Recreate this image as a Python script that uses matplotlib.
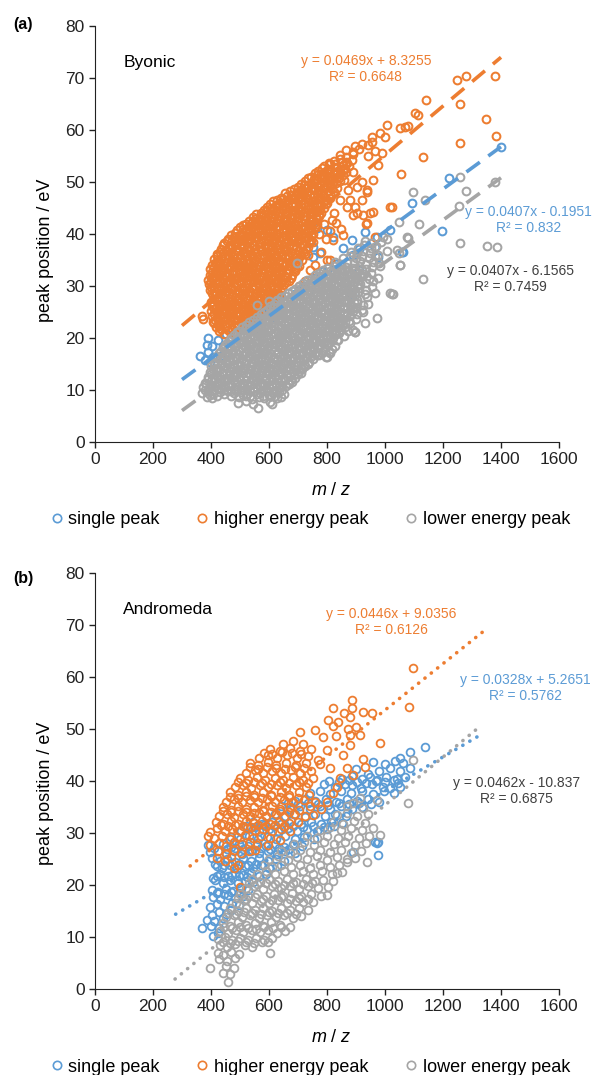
import numpy as np
import matplotlib
matplotlib.use("Agg")
import matplotlib.pyplot as plt
from matplotlib.lines import Line2D

plt.rcParams['font.family'] = ['Liberation Sans', 'DejaVu Sans']
plt.rcParams['mathtext.fontset'] = 'custom'
plt.rcParams['mathtext.it'] = 'Liberation Sans:italic'
plt.rcParams['mathtext.rm'] = 'Liberation Sans'

BLUE = '#5B9BD5'
ORANGE = '#ED7D31'
GRAY = '#A5A5A5'

series_names = ["single peak", "higher energy peak", "lower energy peak"]

# points, written as "m/z,peak" pairs

# ---------------- panel (a) Byonic ----------------
a_single = """
362,16.5 379,15.8 390,17.3 397,15.4 408,16.3 390,20.0 424,19.6 385,18.6 402,18.4
440,18.2 452,20.8 466,19.6 482,21.2 430,16.5 455,17.2 500,20.3 515,21.8 530,22.6
548,21.5 560,23.6 580,24.4 600,25.2 615,24.0 632,26.3 650,27.1 668,26.0 690,28.4
705,29.2 720,30.0 738,29.1 752,35.6 766,41.2 800,40.8 821,39.4 752,37.5 776,36.3
760,31.5 785,32.8 805,33.4 830,34.2 856,37.3 885,38.8 890,36.0 912,37.1 931,40.4
950,38.2 972,39.4 966,37.5 976,35.6 1017,40.8 1062,36.5 1092,46.0 1195,40.6
1221,50.7 1399,56.8 886,28.3 879,28.6 1059,36.5 860,30.5 910,33.0
"""
a_high = """
427,21.3 445,20.8 466,21.2
417,22.2 436,21.8 452,22.4 474,22.0 493,22.3 515,21.9
368,24.2 372,23.6 407,23.1 424,22.7 441,23.3 463,22.9 480,23.4 502,22.8 521,23.2 543,22.9
404,24.3 419,23.8 440,24.1 457,24.5 478,23.9 497,24.2 518,24.6 537,23.8 558,24.3
401,25.2 423,24.9 439,25.4 461,25.0 480,25.3 499,24.8 521,25.4 540,25.1 562,24.9 581,25.3
403,26.1 418,25.7 437,26.3 456,26.0 474,25.6 494,26.2 515,25.9 533,26.4 553,25.8 574,26.1 596,26.3
400,27.0 421,27.4 438,26.8 458,27.2 479,26.9 497,27.4 518,27.0 538,26.7 557,27.3 579,27.0 598,26.8 614,27.3
406,28.3 424,27.8 443,28.1 462,28.4 481,27.9 503,28.2 520,27.7 541,28.3 562,28.0 583,28.4 603,27.9 626,28.2
398,29.2 416,28.8 435,29.3 455,29.0 474,29.4 495,28.9 514,29.3 534,29.1 555,28.7 575,29.2 596,29.0 617,29.4 640,28.9
394,30.3 412,29.8 431,30.1 451,30.4 469,29.9 489,30.2 510,29.7 529,30.3 550,30.0 570,30.4 590,29.8 611,30.2 632,30.0 653,30.3
391,31.2 408,31.4 427,30.9 446,31.3 465,31.0 486,31.4 504,30.8 524,31.2 545,31.0 565,31.3 585,30.9 606,31.3 627,31.0 648,31.4 668,30.9
395,32.1 414,31.8 432,32.3 452,32.0 471,32.4 491,31.8 511,32.2 531,32.0 551,32.4 572,31.9 592,32.2 613,31.9 634,32.3 656,32.0 680,32.2
398,33.3 417,32.9 436,33.2 456,33.4 475,32.8 496,33.1 516,33.4 536,32.9 557,33.2 578,33.0 598,33.4 619,32.9 641,33.3 663,33.0 688,33.2
404,34.0 422,34.4 441,34.1 461,33.8 480,34.3 501,34.0 521,34.4 541,33.9 562,34.2 583,34.0 604,34.4 625,33.9 646,34.2 668,34.0 690,34.3 703,33.9
411,35.2 429,34.8 449,35.3 469,35.0 488,35.4 509,34.9 529,35.2 550,35.0 570,35.4 591,34.9 612,35.2 633,35.0 655,35.4 677,34.9 699,35.2 714,35.0
421,36.1 440,36.4 459,35.9 479,36.2 499,36.0 519,36.4 540,35.9 560,36.3 581,36.0 602,36.4 623,35.9 644,36.2 666,36.0 688,36.4 710,35.9 724,36.2
433,37.2 452,36.9 472,37.3 492,37.0 512,37.4 533,36.9 553,37.2 574,37.0 595,37.4 616,36.9 637,37.2 659,37.0 681,37.3 703,36.9 728,37.2
446,38.3 465,37.9 485,38.2 505,38.0 525,38.4 546,37.9 567,38.3 588,38.0 609,38.4 630,37.9 652,38.2 674,38.0 696,38.4 718,37.9 737,38.2
459,39.1 478,39.4 498,38.9 518,39.2 539,39.0 560,39.4 581,38.9 602,39.3 623,39.0 645,39.4 667,38.9 689,39.2 711,39.0 733,39.4 745,38.9
482,40.2 501,39.9 521,40.3 542,40.0 563,40.4 584,39.9 605,40.2 626,40.0 648,40.4 670,39.9 692,40.2 714,40.0 736,40.4 752,40.0
501,41.3 520,40.9 541,41.2 562,41.0 583,41.4 604,40.9 625,41.3 647,41.0 669,41.4 691,40.9 713,41.2 735,41.0 757,41.3
519,42.0 540,42.4 561,41.9 582,42.2 603,42.0 624,42.4 646,41.9 668,42.3 690,42.0 712,42.4 734,41.9 756,42.2 766,42.0
546,43.2 566,42.9 587,43.3 608,43.0 630,43.4 652,42.9 674,43.2 696,43.0 718,43.4 740,42.9 762,43.2 772,43.4
571,44.1 591,44.4 612,43.9 634,44.2 656,44.0 678,44.4 700,43.9 722,44.3 744,44.0 766,44.4 780,44.0
593,45.2 613,44.9 635,45.3 657,45.0 679,45.4 701,44.9 723,45.2 745,45.0 767,45.4 789,45.0
613,46.3 634,45.9 656,46.2 678,46.0 700,46.4 722,45.9 744,46.3 766,46.0 788,46.4 800,45.9
641,47.0 662,47.4 684,46.9 706,47.2 728,47.0 750,47.4 772,46.9 794,47.2 812,47.0
671,48.2 692,47.9 714,48.3 736,48.0 758,48.4 780,47.9 802,48.2 824,48.0
701,49.1 722,49.4 744,48.9 766,49.2 788,49.0 810,49.4 833,48.9
723,50.2 744,49.9 766,50.3 788,50.0 810,50.4 832,49.9 845,50.2
746,51.0 767,51.4 789,50.9 811,51.2 833,51.0 856,51.3
769,52.2 790,51.9 812,52.3 834,52.0 856,52.4 866,51.9
791,53.1 812,53.4 834,52.9 856,53.2 875,53.0
823,54.0 844,54.4 866,53.9 885,54.2
846,55.2 867,54.9 889,55.3
866,56.1 888,55.8 910,56.3
897,57.0 921,57.4 943,57.1
750,38.5 772,40.0 795,39.0 812,40.5 830,42.2 848,41.0 824,44.0 845,46.5 869,45.2
872,48.5 903,49.0 920,50.0 948,44.0 959,44.2 934,41.9 966,39.4 920,46.5 879,46.5
937,48.5 1017,45.2 1024,45.2 903,44.0 924,43.6 890,43.6 855,39.8 821,38.8 810,35.0
800,35.0 780,36.5 760,34.0 740,33.0 725,31.0 705,30.0 735,36.0 790,42.0 860,50.4
888,52.0 959,50.4 938,48.0 897,45.2 817,42.7 938,42.1 955,57.7 976,53.3 954,58.7
983,59.4 1000,58.7 1006,61.0 1052,60.4 1069,60.6 1079,60.8 1103,63.3 1114,62.9
1141,65.8 1247,69.6 1279,70.4 1379,70.3 1259,65.0 1348,62.1 1259,57.5 1383,58.8
1132,54.8 1055,51.5 990,55.5 965,56.0 940,55.0
"""
# the solid-looking core of the orange cloud holds many more circles
a_high_core = """
436,21.7 458,21.5 484,21.4 505,21.8
412,22.9 429,22.4 451,22.6 470,23.0 491,22.5 511,22.7 532,22.6
414,23.5 432,23.9 451,23.7 469,24.0 489,23.5 510,23.8 528,24.0 548,23.6
410,24.6 430,24.5 450,24.9 470,24.6 489,24.7 510,24.4 530,24.8 551,24.6 571,24.5
410,25.5 428,25.8 447,25.6 465,25.4 485,25.7 505,25.5 526,25.8 545,25.6 566,25.5 587,25.7
409,26.6 428,26.4 447,26.7 466,26.5 486,26.3 506,26.6 526,26.4 546,26.8 566,26.5 587,26.6 607,26.4
410,27.6 430,27.3 449,27.7 469,27.5 490,27.4 509,27.8 529,27.5 549,27.3 569,27.7 590,27.5 608,27.4 620,27.8
403,28.7 415,28.5 434,28.4 452,28.8 472,28.5 492,28.6 512,28.4 531,28.8 551,28.5 572,28.6 593,28.3 613,28.7 634,28.5
400,29.8 425,29.5 445,29.7 465,29.4 484,29.8 504,29.6 524,29.7 544,29.4 565,29.8 585,29.5 606,29.6 627,29.4 646,29.7
401,30.8 420,30.6 440,30.5 460,30.9 479,30.6 499,30.7 519,30.5 539,30.8 560,30.6 580,30.7 600,30.5 621,30.8 642,30.6 660,30.7
400,31.6 417,31.8 437,31.5 456,31.9 476,31.6 495,31.7 515,31.5 535,31.8 555,31.6 575,31.7 596,31.5 617,31.8 638,31.6 660,31.7 676,31.5
404,32.7 423,32.5 442,32.8 462,32.6 481,32.7 501,32.4 521,32.8 541,32.6 562,32.7 582,32.5 603,32.8 624,32.6 645,32.7 667,32.5 690,32.8
410,33.6 427,33.8 446,33.5 466,33.9 486,33.6 506,33.8 526,33.5 546,33.7 567,33.9 588,33.6 609,33.8 630,33.5 652,33.8 675,33.6 696,33.7
414,34.5 432,34.7 451,34.6 471,34.4 491,34.8 511,34.6 531,34.5 552,34.8 573,34.6 594,34.5 615,34.8 636,34.6 657,34.5 679,34.7 700,34.6
420,35.7 439,35.5 459,35.8 479,35.6 499,35.4 519,35.8 540,35.6 560,35.5 581,35.8 602,35.6 623,35.5 644,35.8 666,35.6 688,35.5 708,35.7
431,36.6 450,36.8 470,36.5 490,36.9 510,36.6 530,36.7 550,36.5 571,36.8 592,36.6 613,36.7 634,36.5 655,36.8 677,36.6 699,36.7 719,36.5
443,37.8 462,37.6 482,37.9 502,37.7 523,37.5 544,37.8 564,37.6 585,37.7 606,37.5 627,37.8 648,37.6 670,37.7 692,37.5 714,37.8 733,37.6
455,38.6 472,38.8 492,38.5 512,38.9 532,38.6 553,38.7 574,38.5 595,38.8 616,38.6 637,38.7 659,38.5 681,38.8 703,38.6 724,38.7 742,38.5
470,39.8 489,39.6 509,39.9 529,39.7 550,39.5 571,39.8 592,39.6 613,39.7 635,39.5 657,39.8 679,39.6 701,39.7 723,39.5 745,39.8
490,40.7 511,40.9 531,40.6 552,40.9 573,40.7 594,40.8 615,40.6 636,40.9 658,40.7 680,40.8 702,40.6 724,40.9 746,40.7
510,41.8 530,41.6 551,41.9 572,41.7 593,41.5 614,41.8 635,41.6 657,41.7 679,41.5 701,41.8 723,41.6 745,41.7 762,41.5
530,42.6 550,42.8 571,42.5 592,42.9 613,42.6 635,42.7 657,42.5 679,42.8 701,42.6 723,42.7 745,42.5 767,42.8
556,43.8 576,43.6 597,43.9 619,43.7 641,43.5 663,43.8 685,43.6 707,43.7 729,43.5 751,43.8 773,43.6
581,44.6 602,44.8 623,44.5 645,44.9 667,44.6 689,44.7 711,44.5 733,44.8 755,44.6 777,44.7
603,45.8 624,45.6 645,45.9 667,45.7 689,45.5 711,45.8 733,45.6 755,45.7 777,45.5 795,45.8
627,46.6 647,46.8 669,46.5 691,46.9 713,46.6 735,46.7 757,46.5 779,46.8 801,46.6
656,47.8 677,47.6 699,47.9 721,47.7 743,47.5 765,47.8 787,47.6 809,47.7
685,48.7 706,48.5 728,48.8 750,48.6 772,48.5 794,48.8 816,48.6
712,49.7 733,49.5 755,49.8 777,49.6 799,49.5 821,49.8
735,50.7 756,50.5 778,50.8 800,50.6 822,50.5 842,50.7
758,51.7 779,51.5 801,51.8 823,51.6 845,51.5
781,52.7 802,52.5 824,52.8 846,52.6 862,52.5
806,53.7 828,53.5 850,53.8 870,53.6
"""
a_low = """
563,6.5 493,7.5 520,7.8 545,7.3 603,7.7 612,7.4
386,8.7 405,8.4 498,8.6 522,8.9 541,8.3 566,8.7 584,8.5 606,8.9 628,8.4 641,8.7
369,9.4 389,9.8 408,9.3 430,9.6 457,9.9 480,9.4 503,9.7 525,9.3 547,9.8 570,9.5 592,9.9 614,9.4 636,9.7 650,9.3
373,10.6 393,10.3 414,10.8 436,10.4 458,10.7 480,10.2 502,10.6 524,10.9 546,10.4 568,10.7 590,10.3 612,10.8 634,10.5 657,10.7
380,11.4 401,11.8 423,11.3 445,11.7 467,11.4 489,11.8 511,11.3 533,11.6 555,11.9 577,11.4 599,11.7 621,11.3 643,11.8 665,11.4 680,11.6
388,12.6 410,12.3 432,12.7 454,12.4 476,12.8 498,12.3 520,12.7 542,12.4 564,12.8 586,12.3 608,12.6 630,12.9 652,12.4 674,12.7 690,12.3
396,13.4 417,13.8 439,13.3 461,13.7 483,13.4 505,13.8 527,13.3 549,13.6 571,13.9 593,13.4 615,13.7 637,13.3 659,13.8 681,13.4 703,13.7 712,13.3
401,14.6 423,14.3 445,14.7 467,14.4 489,14.8 511,14.3 533,14.7 555,14.4 577,14.8 599,14.3 621,14.6 643,14.9 665,14.4 687,14.7 709,14.3 725,14.6
409,15.4 431,15.8 453,15.3 475,15.7 497,15.4 519,15.8 541,15.3 563,15.6 585,15.9 607,15.4 629,15.7 651,15.3 673,15.8 695,15.4 717,15.7 739,15.3
419,16.6 441,16.3 463,16.7 485,16.4 507,16.8 529,16.3 551,16.7 573,16.4 595,16.8 617,16.3 639,16.6 661,16.9 683,16.4 705,16.7 727,16.3 749,16.6 771,16.8 797,16.4
432,17.4 454,17.8 476,17.3 498,17.7 520,17.4 542,17.8 564,17.3 586,17.6 608,17.9 630,17.4 652,17.7 674,17.3 696,17.8 718,17.4 740,17.7 762,17.3 785,17.6 808,17.4
447,18.6 469,18.3 491,18.7 513,18.4 535,18.8 557,18.3 579,18.7 601,18.4 623,18.8 645,18.3 667,18.6 689,18.9 711,18.4 733,18.7 755,18.3 777,18.6 800,18.8 826,18.4
463,19.4 485,19.8 507,19.3 529,19.7 551,19.4 573,19.8 595,19.3 617,19.6 639,19.9 661,19.4 683,19.7 705,19.3 727,19.8 749,19.4 771,19.7 793,19.3 816,19.6 838,19.6
479,20.6 501,20.3 523,20.7 545,20.4 567,20.8 589,20.3 611,20.7 633,20.4 655,20.8 677,20.3 699,20.6 721,20.9 743,20.4 765,20.7 787,20.3 809,20.6 832,20.8 858,20.4
496,21.4 518,21.8 540,21.3 562,21.7 584,21.4 606,21.8 628,21.3 650,21.6 672,21.9 694,21.4 716,21.7 738,21.3 760,21.8 782,21.4 804,21.7 826,21.3 848,21.6 872,21.4 895,21.2
521,22.6 543,22.3 565,22.7 587,22.4 609,22.8 631,22.3 653,22.7 675,22.4 697,22.8 719,22.3 741,22.6 763,22.9 785,22.4 807,22.7 829,22.3 851,22.6 878,22.8 931,22.9
546,23.4 568,23.8 590,23.3 612,23.7 634,23.4 656,23.8 678,23.3 700,23.6 722,23.9 744,23.4 766,23.7 788,23.3 810,23.8 832,23.4 854,23.7 876,23.3 900,23.6 972,23.8
571,24.6 593,24.3 615,24.7 637,24.4 659,24.8 681,24.3 703,24.7 725,24.4 747,24.8 769,24.3 791,24.6 813,24.9 835,24.4 857,24.7 879,24.3 903,24.6 924,25.0
593,25.4 615,25.8 637,25.3 659,25.7 681,25.4 703,25.8 725,25.3 747,25.6 769,25.9 791,25.4 813,25.7 835,25.3 857,25.8 879,25.4 901,25.7 921,25.4
560,26.3 616,26.6 638,26.3 660,26.7 682,26.4 704,26.8 726,26.3 748,26.7 770,26.4 792,26.8 814,26.3 836,26.6 858,26.9 880,26.4 902,26.7 924,26.3 942,26.6
600,27.2 627,27.3 641,27.8 663,27.3 685,27.7 707,27.4 729,27.8 751,27.3 773,27.6 795,27.9 817,27.4 839,27.7 861,27.3 883,27.8 905,27.4 938,27.9
666,28.6 688,28.3 710,28.7 732,28.4 754,28.8 776,28.3 798,28.7 820,28.4 842,28.8 864,28.3 886,28.6 908,28.9 930,28.4 966,28.6 1024,28.5
691,29.4 713,29.8 735,29.3 757,29.7 779,29.4 801,29.8 823,29.3 845,29.6 867,29.9 889,29.4 911,29.7 933,29.3 955,29.8
716,30.6 738,30.3 760,30.7 782,30.4 804,30.8 826,30.3 848,30.7 870,30.4 892,30.8 914,30.3 936,30.6 959,31.0
746,31.4 768,31.8 790,31.3 812,31.7 834,31.4 856,31.8 878,31.3 900,31.6 922,31.9 944,31.4 976,31.5 1131,31.3
773,32.6 795,32.3 817,32.7 839,32.4 861,32.8 883,32.3 905,32.7 927,32.4 950,32.6
801,33.4 823,33.8 845,33.3 867,33.7 889,33.4 911,33.8 933,33.3 955,33.6 983,33.9 1052,34.0
697,34.4 826,34.6 848,34.3 870,34.7 892,34.4 914,34.8 936,34.3 958,34.7 980,34.4
856,35.4 878,35.8 900,35.3 922,35.7 944,35.4 966,35.8 976,36.0
881,36.6 903,36.3 925,36.7 947,36.4 1007,36.7 1041,36.9 1048,36.3
907,37.4 929,37.8 951,37.3 970,37.7 932,38.6 955,38.3 985,38.4
993,39.4 1076,39.4 1006,39.0 1117,42.0 1048,42.3 1097,48.0 1138,46.6 1255,45.4
1259,51.0 1279,48.3 1379,50.0 1259,38.3 1352,37.7 1386,37.5 1028,28.5 1017,28.6
1052,34.0 897,21.2 845,22.9 828,21.0 810,17.1 1080,39.2 890,21.5 834,19.6 800,16.3
766,16.7 731,16.3
"""
a_low_core = """
395,9.1 420,8.9 445,9.2 470,8.8 512,9.1 535,8.9 557,9.2 579,8.9 601,9.1 622,8.8
380,10.1 402,9.9 424,10.2 446,10.0 469,9.9 491,10.2 513,10.0 535,9.9 557,10.2 579,10.0 601,9.9 623,10.1 645,10.0
384,11.1 404,10.9 425,11.2 447,11.0 469,10.9 491,11.2 513,11.0 535,10.9 557,11.2 579,11.0 601,10.9 623,11.2 645,11.0 668,11.1
391,12.1 412,11.9 434,12.2 456,12.0 478,11.9 500,12.2 522,12.0 544,11.9 566,12.2 588,12.0 610,11.9 632,12.2 654,12.0 676,11.9
399,13.1 421,12.9 443,13.2 465,13.0 487,12.9 509,13.2 531,13.0 553,12.9 575,13.2 597,13.0 619,12.9 641,13.2 663,13.0 685,12.9 700,13.1
406,14.1 428,13.9 450,14.2 472,14.0 494,13.9 516,14.2 538,14.0 560,13.9 582,14.2 604,14.0 626,13.9 648,14.2 670,14.0 692,13.9 714,14.1
412,15.1 434,14.9 456,15.2 478,15.0 500,14.9 522,15.2 544,15.0 566,14.9 588,15.2 610,15.0 632,14.9 654,15.2 676,15.0 698,14.9 720,15.1 735,15.0
420,16.1 442,15.9 464,16.2 486,16.0 508,15.9 530,16.2 552,16.0 574,15.9 596,16.2 618,16.0 640,15.9 662,16.2 684,16.0 706,15.9 728,16.2 750,16.0
428,17.1 450,16.9 472,17.2 494,17.0 516,16.9 538,17.2 560,17.0 582,16.9 604,17.2 626,17.0 648,16.9 670,17.2 692,17.0 714,16.9 736,17.2 758,17.0 782,17.1
440,18.1 462,17.9 484,18.2 506,18.0 528,17.9 550,18.2 572,18.0 594,17.9 616,18.2 638,18.0 660,17.9 682,18.2 704,18.0 726,17.9 748,18.2 770,18.0 794,18.1 816,17.9
455,19.1 477,18.9 499,19.2 521,19.0 543,18.9 565,19.2 587,19.0 609,18.9 631,19.2 653,19.0 675,18.9 697,19.2 719,19.0 741,18.9 763,19.2 785,19.0 808,19.1
470,20.1 491,19.9 513,20.2 535,20.0 557,19.9 579,20.2 601,20.0 623,19.9 645,20.2 667,20.0 689,19.9 711,20.2 733,20.0 755,19.9 777,20.2 799,20.0 822,20.1
488,21.1 510,20.9 532,21.2 554,21.0 576,20.9 598,21.2 620,21.0 642,20.9 664,21.2 686,21.0 708,20.9 730,21.2 752,21.0 774,20.9 796,21.2 818,21.0 840,20.9
508,22.1 530,21.9 552,22.2 574,22.0 596,21.9 618,22.2 640,22.0 662,21.9 684,22.2 706,22.0 728,21.9 750,22.2 772,22.0 794,21.9 816,22.2 838,22.0 861,22.1
532,23.1 554,22.9 576,23.2 598,23.0 620,22.9 642,23.2 664,23.0 686,22.9 708,23.2 730,23.0 752,22.9 774,23.2 796,23.0 818,22.9 840,23.2 862,23.0
558,24.1 580,23.9 602,24.2 624,24.0 646,23.9 668,24.2 690,24.0 712,23.9 734,24.2 756,24.0 778,23.9 800,24.2 822,24.0 844,23.9 866,24.2
582,25.1 604,24.9 626,25.2 648,25.0 670,24.9 692,25.2 714,25.0 736,24.9 758,25.2 780,25.0 802,24.9 824,25.2 846,25.0 868,24.9 890,25.2
604,26.1 626,25.9 648,26.2 670,26.0 692,25.9 714,26.2 736,26.0 758,25.9 780,26.2 802,26.0 824,25.9 846,26.2 868,26.0 890,25.9
628,27.1 650,26.9 672,27.2 694,27.0 716,26.9 738,27.2 760,27.0 782,26.9 804,27.2 826,27.0 848,26.9 870,27.2 892,27.0
655,28.1 677,27.9 699,28.2 721,28.0 743,27.9 765,28.2 787,28.0 809,27.9 831,28.2 853,28.0 875,27.9 897,28.2
678,29.1 700,28.9 722,29.2 744,29.0 766,28.9 788,29.2 810,29.0 832,28.9 854,29.2 876,29.0 898,28.9
704,30.1 726,29.9 748,30.2 770,30.0 792,29.9 814,30.2 836,30.0 858,29.9 880,30.2 902,30.0
730,31.1 752,30.9 774,31.2 796,31.0 818,30.9 840,31.2 862,31.0 884,30.9 906,31.2
760,32.1 782,31.9 804,32.2 826,32.0 848,31.9 870,32.2 892,32.0 914,31.9
787,33.1 809,32.9 831,33.2 853,33.0 875,32.9 897,33.2 919,33.0
"""
# trendlines as printed on the chart: single, higher, lower
a_slope = [0.0407, 0.0469, 0.0407]
a_icpt = [-0.1951, 8.3255, -6.1565]
a_xrange = [(300, 1400), (300, 1400), (300, 1400)]
a_eq = ["y = 0.0407x - 0.1951\nR² = 0.832",
        "y = 0.0469x + 8.3255\nR² = 0.6648",
        "y = 0.0407x - 6.1565\nR² = 0.7459"]
a_eq_pos = [(1495, 42.7), (934, 71.7), (1434, 31.3)]

# ---------------- panel (b) Andromeda ----------------
b_single = """
408,10.1 424,10.8 368,11.7 400,12.2 428,11.8 386,13.3 412,13.0 440,13.7
402,14.2 426,14.9 452,14.5 470,15.1 397,15.8 420,16.4 446,16.0 472,16.5 495,16.1
407,17.7 432,17.4 458,18.0 484,17.5 510,17.9 403,19.0 424,18.7 450,19.3 476,18.9 502,19.4 528,19.0
414,21.0 440,20.4 466,20.9 492,20.3 518,20.8 545,20.5 408,21.3 432,22.2 458,21.8 484,22.4 510,21.9 537,22.3 565,21.8 590,22.1
420,23.6 438,23.3 464,23.8 490,23.2 517,23.7 544,23.3 572,23.8 600,23.3 628,23.6
403,25.2 430,24.6 456,25.0 483,24.5 510,25.1 538,24.7 566,25.2 595,24.6 624,25.0 652,24.7
397,26.3 425,26.6 452,26.1 480,26.5 508,26.0 537,26.6 566,26.2 596,26.5 626,26.0 656,26.6 688,26.2 890,26.3
388,27.6 440,27.9 468,27.4 497,27.9 527,27.5 557,28.0 588,27.5 619,27.9 650,27.4 682,27.9 714,27.5 976,28.3
470,29.3 500,28.8 530,29.4 561,28.9 592,29.3 624,28.8 656,29.4 689,28.9 722,29.3 756,28.9 966,28.3
505,30.4 536,30.9 567,30.3 599,30.8 631,30.4 664,30.9 697,30.3 731,30.8 766,30.4 800,30.7
545,32.2 577,31.7 609,32.2 642,31.8 675,32.3 709,31.8 744,32.2 779,31.7 814,32.2 850,31.9
590,33.2 622,33.7 655,33.2 689,33.6 723,33.1 758,33.7 793,33.2 829,33.6 866,33.2
640,35.1 673,34.6 707,35.1 741,34.7 776,35.2 812,34.7 848,35.1 885,34.6 920,35.0
690,36.1 724,36.6 759,36.1 795,36.5 831,36.0 868,36.6 905,36.1 942,36.5 980,36.0
740,37.6 775,38.0 811,37.5 847,38.1 884,37.6 921,38.0 958,37.5 995,38.0 1030,37.6
790,39.4 826,38.9 862,39.4 886,39.2 918,38.7 955,39.4 992,38.9 1017,38.7 1045,39.6 1052,38.8
850,40.4 885,40.9 920,40.3 948,40.8 972,40.2 1005,40.7 1040,40.3 1070,40.8
900,42.3 941,41.3 980,42.0 1017,42.5 1052,41.9 1086,42.5 960,43.6 1000,43.2 1035,43.8 1062,43.5
1052,44.4 1086,45.6 1138,46.6 976,25.8 972,28.0
420,18.5 445,18.3 470,18.6 495,18.4 420,21.8 446,21.6 472,21.9 498,21.7 524,21.5
415,24.1 445,23.9 472,24.2 500,24.0 528,23.8 556,24.1
410,27.1 455,26.9 483,27.2 512,27.0 542,26.8 572,27.1 603,26.9 635,27.1 668,26.9
520,31.4 552,31.2 584,31.5 617,31.3 650,31.1 684,31.4 718,31.2 752,31.4 788,31.2 824,31.4
665,35.7 700,35.5 733,35.8 768,35.6 803,35.4 840,35.7 876,35.5 912,35.7 950,35.5
808,40.0 843,39.8 876,40.1 905,39.9 936,39.7 968,40.0 1000,39.8 1030,40.1
"""
b_high = """
500,19.6 478,23.3 493,23.9 421,25.2 448,24.7 470,25.3
425,26.5 452,26.0 479,26.8 505,26.2 531,26.6 552,26.7
398,27.7 426,28.1 451,27.5 478,28.2 506,27.8 533,28.3 560,27.6 597,27.7
390,29.4 412,29.0 438,29.5 465,28.9 490,29.3 518,29.6 545,29.0 573,29.4 605,29.1 638,28.7
395,30.2 420,30.9 447,30.4 472,30.8 499,30.3 525,30.9 553,30.5 580,30.7 611,30.3 642,30.8 672,30.4
416,32.2 441,31.7 469,32.3 494,31.8 522,32.4 548,31.9 577,32.3 604,31.7 636,32.2 668,31.9 700,32.1
428,33.2 456,33.7 480,33.1 509,33.6 535,33.2 564,33.8 591,33.3 623,33.6 653,33.1 687,33.7 725,33.3 752,33.5
440,35.0 468,34.5 494,35.1 522,34.6 548,35.0 578,34.5 609,35.1 638,34.6 672,35.0 705,34.5 741,35.1 778,34.7
452,36.0 480,36.5 506,35.9 535,36.4 561,36.0 592,36.6 620,36.0 653,36.4 683,35.9 719,36.4 760,36.0 800,36.0
466,37.8 493,37.3 522,37.9 548,37.4 579,37.8 607,37.3 640,37.9 670,37.4 705,37.8 739,37.4 821,37.7
482,38.8 511,39.3 537,38.7 568,39.2 596,38.8 629,39.3 659,38.7 694,39.2 727,38.8 834,38.8
500,40.6 527,40.1 558,40.7 586,40.2 619,40.6 649,40.1 684,40.7 716,40.2 752,40.5 845,40.6
520,41.6 550,42.1 578,41.5 611,42.0 641,41.6 676,42.1 708,41.6 745,42.0 810,42.5 869,42.5
534,43.5 563,43.0 595,43.6 625,43.1 660,43.5 692,43.0 729,43.4 775,43.2 890,41.2 931,42.7
565,44.4 597,45.0 628,44.5 663,45.0 695,44.4 733,44.9 924,44.2
605,46.2 639,45.7 671,46.3 708,45.8 745,46.2 800,46.0
648,47.2 683,47.7 716,47.1 879,47.0 983,47.3
707,49.4 759,49.8 786,48.5 830,48.6 879,48.8 914,48.8
872,50.0 900,50.3 803,51.7 838,51.3 879,52.3 924,53.3 955,53.0 886,54.0 1083,54.2
886,55.6 821,54.0 1097,61.7 770,44.0 855,45.0 820,50.5 860,53.0
433,31.5 458,31.3 484,31.6 510,31.4 537,31.2 563,31.6 590,31.3 620,31.5 652,31.4
442,34.2 468,34.0 494,34.3 521,34.1 549,33.9 578,34.3 607,34.0 637,34.2 670,34.0
466,37.0 493,36.8 520,37.1 548,36.9 577,36.7 606,37.1 637,36.9 668,37.0 700,36.8
492,39.8 520,39.6 548,39.9 577,39.7 607,39.5 638,39.9 670,39.7 702,39.8 735,39.6
535,42.6 563,42.4 593,42.7 624,42.5 656,42.3 689,42.7 720,42.5
582,45.4 612,45.2 644,45.5 678,45.3 712,45.1
"""
b_low = """
459,1.4 440,3.1 466,2.8 397,4.0 452,4.4 478,4.1 427,5.8 455,5.4 482,5.9
424,7.0 441,6.6 468,7.2 495,6.8 603,6.9 430,8.4 456,8.0 484,8.6 517,8.5 541,8.1 597,9.0
424,9.6 448,10.0 474,9.5 500,9.9 527,9.4 555,9.9 583,9.5 612,9.8
431,11.2 458,10.8 485,11.3 512,10.9 540,11.4 568,10.9 597,11.3 626,10.8 655,11.2
440,12.7 467,12.2 494,12.8 522,12.3 550,12.7 579,12.2 608,12.8 638,12.3 672,12.0
452,13.8 479,14.3 507,13.8 535,14.2 564,13.7 593,14.3 623,13.8 653,14.2 684,13.7 712,14.1
466,15.5 494,15.0 522,15.6 551,15.1 580,15.5 610,15.0 640,15.6 671,15.1 702,15.5 735,15.2
485,16.6 513,17.1 542,16.5 571,17.0 601,16.6 631,17.1 662,16.5 693,17.0 717,16.7 752,16.8
500,18.2 529,17.8 558,18.3 588,17.8 618,18.3 649,17.9 680,18.4 712,17.9 745,18.3 778,17.9 800,18.1
520,19.4 549,19.9 579,19.3 609,19.8 640,19.4 671,19.9 703,19.3 736,19.8 769,19.4 803,19.7
540,21.1 570,20.6 600,21.2 631,20.7 662,21.1 694,20.6 727,21.2 760,20.7 786,21.0 820,20.8
560,22.2 590,22.6 621,22.1 652,22.6 684,22.2 717,22.7 750,22.1 784,22.6 818,22.2 834,22.3 852,22.5
582,23.8 612,23.4 643,23.9 675,23.4 708,23.8 741,23.3 775,23.9 809,23.4 843,23.8 869,24.4 938,24.4
600,25.0 632,25.5 664,24.9 697,25.4 731,25.0 765,25.5 799,24.9 834,25.4 870,25.0 897,25.2
640,26.6 673,26.2 707,26.7 741,26.3 776,26.8 811,26.3 847,26.7 883,26.2 918,26.6
685,27.8 719,28.2 754,27.7 789,28.2 825,27.8 861,28.3 897,27.7 933,28.1
731,29.4 766,29.0 801,29.5 837,29.0 873,29.4 910,29.0 946,29.5 983,29.6
776,30.6 811,31.1 847,30.5 884,31.0 921,30.6 958,31.0
820,32.2 856,31.8 893,32.3 930,31.9 834,33.4 869,33.8 905,33.3 940,33.7
869,35.1 890,35.8 924,34.8 914,36.7 972,36.3 1079,35.8 1097,44.0
440,9.1 465,8.9 492,9.2 520,9.0 548,8.8 575,9.1
446,11.9 472,11.7 499,12.0 527,11.8 555,11.6 584,12.0 613,11.8 643,11.9
460,14.7 486,14.5 514,14.8 543,14.6 572,14.4 601,14.8 631,14.6 662,14.7 693,14.5
493,17.5 521,17.3 550,17.6 579,17.4 609,17.2 640,17.6 671,17.4 703,17.5 735,17.3
530,20.3 559,20.1 589,20.4 620,20.2 651,20.0 683,20.4 716,20.2 749,20.3
"""
b_slope = [0.0328, 0.0446, 0.0462]
b_icpt = [5.2651, 9.0356, -10.837]
b_xrange = [(278, 1340), (328, 1336), (276, 1325)]
b_eq = ["y = 0.0328x + 5.2651\nR² = 0.5762",
        "y = 0.0446x + 9.0356\nR² = 0.6126",
        "y = 0.0462x - 10.837\nR² = 0.6875"]
b_eq_pos = [(1483, 57.9), (1021, 70.6), (1452, 38.1)]


def parse(*texts):
    toks = " ".join(texts).split()
    pts = np.array([[float(v) for v in tok.split(',')] for tok in toks])
    return pts[:, 0], pts[:, 1]


def panel(ax, clouds, slopes, icpts, xranges, eqs, eq_pos, eq_colors, dotted, name, ylab_y, mew):
    colors = [BLUE, ORANGE, GRAY]
    for (x, y), c in zip(clouds, colors):
        ax.plot(x, y, 'o', ls='', mfc='none', mec=c, ms=5.6, mew=mew, zorder=2)
    for s, b, (x0, x1), c in zip(slopes, icpts, xranges, colors):
        xx = np.array([x0, x1])
        if dotted:
            ax.plot(xx, s * xx + b, color=c, lw=2.6, ls=(0, (0.05, 2.2)),
                    dash_capstyle='round', zorder=3)
        else:
            ax.plot(xx, s * xx + b, color=c, lw=2.6, ls=(0, (4.6, 2.9)),
                    dash_capstyle='butt', zorder=3)
    for t, (px, py), c in zip(eqs, eq_pos, eq_colors):
        ax.text(px, py, t, color=c, fontsize=10, ha='center', va='center',
                linespacing=1.2, zorder=4)
    ax.text(97, 73, name, fontsize=12.5, ha='left', va='center')
    ax.set_xlim(0, 1600)
    ax.set_ylim(0, 80)
    ax.set_xticks(range(0, 1601, 200))
    ax.set_yticks(range(0, 81, 10))
    ax.tick_params(labelsize=12.5, length=4, width=1, colors='#222222')
    ax.spines['top'].set_visible(False)
    ax.spines['right'].set_visible(False)
    ax.spines['left'].set_color('#222222')
    ax.spines['bottom'].set_color('#222222')
    ax.set_ylabel("peak position / eV", fontsize=13)
    ax.yaxis.set_label_coords(-0.088, ylab_y)
    ax.set_xlabel("$m$ / $z$", fontsize=13)
    ax.xaxis.set_label_coords(0.509, -0.095)


fig = plt.figure(figsize=(5.95, 10.75), dpi=100)
ax_a = fig.add_axes([0.1597, 0.5888, 0.7798, 0.3870])
ax_b = fig.add_axes([0.1597, 0.0800, 0.7798, 0.3870])

a_clouds = [parse(a_single), parse(a_high, a_high_core), parse(a_low, a_low_core)]
b_clouds = [parse(b_single), parse(b_high), parse(b_low)]
eq_colors = [BLUE, ORANGE, '#404040']

panel(ax_a, a_clouds, a_slope, a_icpt, a_xrange, a_eq, a_eq_pos, eq_colors, False, "Byonic", 0.46, 1.45)
panel(ax_b, b_clouds, b_slope, b_icpt, b_xrange, b_eq, b_eq_pos, eq_colors, True, "Andromeda", 0.47, 1.3)

fig.text(13 / 595, 1 - 25 / 1075, "(a)", fontsize=11.5, fontweight='bold', va='center')
fig.text(13 / 595, 1 - 578 / 1075, "(b)", fontsize=11.5, fontweight='bold', va='center')

handles = [Line2D([], [], marker='o', ls='', mfc='none', mec=c, ms=6, mew=1.2)
           for c in [BLUE, ORANGE, GRAY]]
for ly in [520, 1067]:
    fig.legend(handles, series_names, loc='center left', ncol=3,
               bbox_to_anchor=(52 / 595, 1 - ly / 1075), frameon=False, fontsize=13,
               handlelength=0.5, handletextpad=0.4, columnspacing=2.1,
               borderaxespad=0, borderpad=0)

fig.savefig("out.png", dpi=100)
